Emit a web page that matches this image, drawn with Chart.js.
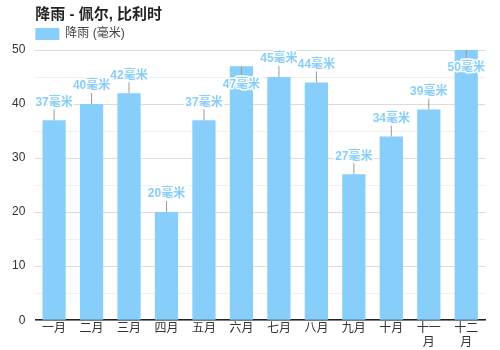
<!DOCTYPE html>
<html>
<head>
<meta charset="utf-8">
<script src="https://cdn.jsdelivr.net/npm/chart.js@4"></script>
<style>
  html, body { margin: 0; padding: 0; background: #fff; }
  #wrap { width: 500px; height: 350px; }
</style>
</head>
<body>
<div id="wrap"><canvas id="chart"></canvas></div>
<script>
const months = ["一月", "二月", "三月", "四月", "五月", "六月", "七月", "八月", "九月", "十月", "十一月", "十二月"];
const rainfall = [37, 40, 42, 20, 37, 47, 45, 44, 27, 34, 39, 50];
const unit = "毫米";

const FONT = "'Liberation Sans', 'Noto Sans CJK SC', sans-serif";
const BAR_COLOR = "#87cefa";
const LEGEND_PAD = 4;

// move title and legend so they line up with the plot's left edge
const alignTop = {
  id: "alignTop",
  afterLayout(chart) {
    if (chart.titleBlock) chart.titleBlock.left = chart.chartArea.left;
    if (chart.legend) chart.legend.left = chart.chartArea.left - LEGEND_PAD;
  }
};

// value labels with a short leader line
const valueLabels = {
  id: "valueLabels",
  afterDatasetsDraw(chart) {
    const ctx = chart.ctx;
    const area = chart.chartArea;
    const meta = chart.getDatasetMeta(0);
    ctx.save();
    ctx.font = "bold 12px " + FONT;
    ctx.textAlign = "center";
    ctx.textBaseline = "middle";
    meta.data.forEach((bar, i) => {
      const x = bar.x, y = bar.y;
      let lineEnd, textY;
      if (y - 25 < area.top) {
        lineEnd = y + 11;
        textY = y + 18;
      } else {
        lineEnd = y - 11;
        textY = y - 18;
      }
      ctx.strokeStyle = "#999";
      ctx.lineWidth = 1;
      ctx.beginPath();
      ctx.moveTo(x, y);
      ctx.lineTo(x, lineEnd);
      ctx.stroke();
      const txt = rainfall[i] + unit;
      ctx.strokeStyle = "#fff";
      ctx.lineWidth = 3;
      ctx.lineJoin = "round";
      ctx.strokeText(txt, x, textY);
      ctx.fillStyle = BAR_COLOR;
      ctx.fillText(txt, x, textY);
    });
    ctx.restore();
  }
};

new Chart(document.getElementById("chart"), {
  type: "bar",
  data: {
    labels: months,
    datasets: [{
      label: "降雨 (毫米)",
      data: rainfall,
      backgroundColor: BAR_COLOR,
      borderWidth: 0,
      barPercentage: 0.62,
      categoryPercentage: 1
    }]
  },
  options: {
    responsive: true,
    maintainAspectRatio: false,
    animation: false,
    layout: { padding: { left: 2, right: 15, bottom: -1 } },
    plugins: {
      title: {
        display: true,
        text: "降雨 - 佩尔, 比利时",
        align: "start",
        color: "#222",
        font: { family: FONT, size: 15, weight: "bold" },
        padding: { top: 6, bottom: 0 }
      },
      legend: {
        display: true,
        align: "start",
        labels: {
          boxWidth: 24,
          boxHeight: 12,
          color: "#444",
          font: { family: FONT, size: 12 },
          padding: LEGEND_PAD
        }
      },
      tooltip: { enabled: false }
    },
    scales: {
      x: {
        grid: { display: false, drawTicks: false },
        border: { display: true, color: "#222", width: 1.5 },
        ticks: {
          color: "#333",
          font: { family: FONT, size: 12 },
          padding: 1,
          autoSkip: false,
          maxRotation: 0,
          callback: function (v, i) {
            const s = months[i];
            return s.length > 2 ? [s.slice(0, 2), s.slice(2)] : s;
          }
        }
      },
      y: {
        min: 0,
        max: 50,
        border: { display: false },
        grid: {
          drawTicks: false,
          color: (c) => (c.tick && c.tick.value % 10 === 0) ? "#dcdcdc" : "#f0f0f0"
        },
        ticks: {
          stepSize: 5,
          color: "#333",
          font: { family: FONT, size: 12 },
          padding: 10,
          callback: (v) => v % 10 === 0 ? v : ""
        }
      }
    }
  },
  plugins: [alignTop, valueLabels]
});
</script>
</body>
</html>
